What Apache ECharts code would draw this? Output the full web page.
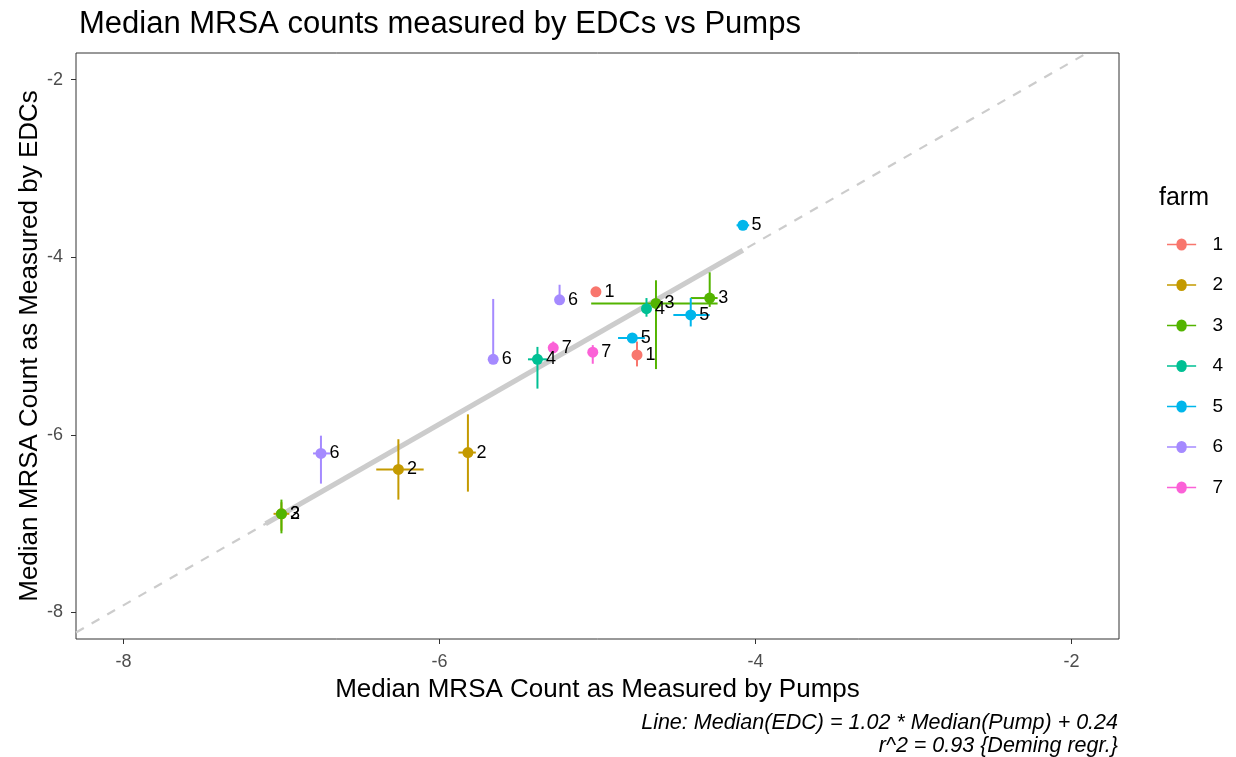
<!DOCTYPE html>
<html lang="en">
<head>
    <meta charset="utf-8">
    <title>MRSA EDC vs Pumps</title>
    <script src="https://cdn.jsdelivr.net/npm/echarts@6/dist/echarts.min.js"></script>
</head>
<body style="margin:0;background:#fff">
    <div id="main" style="width: 1236px;height:757px;"></div>
    <script>
    // farms and their colours (ggplot hue palette)
    var farms = ['1', '2', '3', '4', '5', '6', '7'];
    var farmColors = ['#F8766D', '#C49A00', '#53B400', '#00C094', '#00B6EB', '#A58AFF', '#FB61D7'];

    // one entry per point: farm, median pump, median EDC, and ranges
    var pointFarm = ['2', '3', '6', '2', '2', '6', '6', '1', '3', '4', '3', '5', '5', '1', '7', '7', '4', '5'];
    var pumpMed = [-7.00, -7.00, -6.75, -6.26, -5.82, -5.66, -5.24, -5.01, -4.63, -4.69, -4.29, -4.41, -4.78, -4.75, -5.28, -5.03, -5.38, -4.08];
    var edcMed  = [-6.89, -6.89, -6.21, -6.39, -6.20, -5.15, -4.48, -4.39, -4.52, -4.58, -4.46, -4.65, -4.91, -5.10, -5.02, -5.07, -5.15, -3.64];
    var pumpLo  = [-7.05, -7.03, -6.80, -6.40, -5.88, -5.66, -5.24, -5.01, -5.04, -4.69, -4.41, -4.52, -4.87, -4.75, -5.28, -5.03, -5.44, -4.12];
    var pumpHi  = [-6.95, -6.97, -6.69, -6.10, -5.77, -5.66, -5.24, -5.01, -4.24, -4.69, -4.24, -4.29, -4.70, -4.75, -5.28, -5.03, -5.32, -4.04];
    var edcLo   = [-7.08, -7.11, -6.55, -6.73, -6.64, -5.16, -4.50, -4.39, -5.26, -4.67, -4.56, -4.78, -4.91, -5.23, -5.08, -5.20, -5.48, -3.64];
    var edcHi   = [-6.76, -6.73, -6.01, -6.05, -5.77, -4.47, -4.31, -4.39, -4.26, -4.46, -4.17, -4.46, -4.91, -4.95, -4.95, -4.99, -5.01, -3.64];

    // Deming regression from the caption
    var slope = 1.02;
    var intercept = 0.24;
    var fitFrom = -7.1, fitTo = -4.08;
    var axisMin = -8.3, axisMax = -1.7;
    var tickValues = [-8, -6, -4, -2];

    var font = 'Liberation Sans, Arial, sans-serif';
    var myChart = echarts.init(document.getElementById('main'));

    var series = [];
    // extended fit line (dashed) and fitted range (thick)
    series.push({
        type: 'line', silent: true, symbol: 'none', z: 1, clip: true,
        data: [[axisMin, slope * axisMin + intercept], [axisMax, slope * axisMax + intercept]],
        lineStyle: { color: '#cccccc', width: 2.2, type: [9, 9] }
    });
    series.push({
        type: 'line', silent: true, symbol: 'none', z: 1,
        data: [[fitFrom, slope * fitFrom + intercept], [fitTo, slope * fitTo + intercept]],
        lineStyle: { color: '#cccccc', width: 5 }
    });

    farms.forEach(function (f, k) {
        var rows = [];
        pointFarm.forEach(function (pf, i) {
            if (pf === f) rows.push([pumpMed[i], edcMed[i], pumpLo[i], pumpHi[i], edcLo[i], edcHi[i]]);
        });
        series.push({
            name: f,
            type: 'scatter',
            z: 4,
            symbolSize: 11,
            itemStyle: { color: farmColors[k], opacity: 1 },
            label: {
                show: true, position: 'right', distance: 3,
                formatter: f, color: '#000', fontSize: 18, fontFamily: font
            },
            data: rows.map(function (r) { return [r[0], r[1]]; })
        });
        series.push({
            name: f,
            type: 'custom',
            z: 3,
            silent: true,
            data: rows,
            renderItem: function (params, api) {
                var c = farmColors[k];
                var a = api.coord([api.value(2), api.value(1)]);
                var b = api.coord([api.value(3), api.value(1)]);
                var d = api.coord([api.value(0), api.value(4)]);
                var e = api.coord([api.value(0), api.value(5)]);
                return {
                    type: 'group',
                    children: [
                        { type: 'line', shape: { x1: a[0], y1: a[1], x2: b[0], y2: b[1] }, style: { stroke: c, lineWidth: 2 } },
                        { type: 'line', shape: { x1: d[0], y1: d[1], x2: e[0], y2: e[1] }, style: { stroke: c, lineWidth: 2 } }
                    ]
                };
            }
        });
    });

    var option = {
        backgroundColor: '#fff',
        animation: false,
        textStyle: { fontFamily: font },
        title: {
            text: 'Median MRSA counts measured by EDCs vs Pumps',
            left: 74, top: 4,
            textStyle: { fontSize: 31, fontWeight: 'normal', color: '#000', fontFamily: font }
        },
        grid: {
            left: 76, right: 117, top: 53, bottom: 118,
            show: true, borderColor: '#333', borderWidth: 1, backgroundColor: '#fff'
        },
        legend: {
            data: farms,
            orient: 'vertical',
            left: 1162, top: 230,
            itemWidth: 34, itemHeight: 12, itemGap: 21.5,
            icon: 'path://M0,5h11a6,6 0 0 1 12,0h11v2h-11a6,6 0 0 1 -12,0h-11z',
            textStyle: { fontSize: 19, color: '#000', padding: [0, 0, 0, 9], fontFamily: font },
            selectedMode: false
        },
        xAxis: {
            type: 'value', min: axisMin, max: axisMax,
            name: 'Median MRSA Count as Measured by Pumps',
            nameLocation: 'middle', nameGap: 38,
            nameTextStyle: { fontSize: 26, color: '#000', fontFamily: font },
            axisLine: { show: false },
            axisTick: { show: true, length: 5, customValues: tickValues, lineStyle: { color: '#333' } },
            axisLabel: { customValues: tickValues, fontSize: 18, color: '#4d4d4d', margin: 14, fontFamily: font },
            splitLine: { show: false }
        },
        yAxis: {
            type: 'value', min: axisMin, max: axisMax,
            name: 'Median MRSA Count as Measured by EDCs',
            nameLocation: 'middle', nameGap: 33, nameMoveOverlap: false,
            nameTextStyle: { fontSize: 26, color: '#000', fontFamily: font },
            axisLine: { show: false },
            axisTick: { show: true, length: 5, customValues: tickValues, lineStyle: { color: '#333' } },
            axisLabel: { customValues: tickValues, fontSize: 18, color: '#4d4d4d', margin: 13, fontFamily: font },
            splitLine: { show: false }
        },
        graphic: [
            {
                type: 'text', left: 1159, top: 186,
                style: { text: 'farm', font: '25px ' + font, fill: '#000' }
            },
            {
                type: 'text', right: 118, top: 712,
                style: { text: 'Line: Median(EDC) = 1.02 * Median(Pump) + 0.24', font: 'italic 21.5px ' + font, fill: '#000' }
            },
            {
                type: 'text', right: 118, top: 735,
                style: { text: 'r^2 = 0.93 {Deming regr.}', font: 'italic 21.5px ' + font, fill: '#000' }
            }
        ],
        series: series
    };
    myChart.setOption(option);
    </script>
</body>
</html>
